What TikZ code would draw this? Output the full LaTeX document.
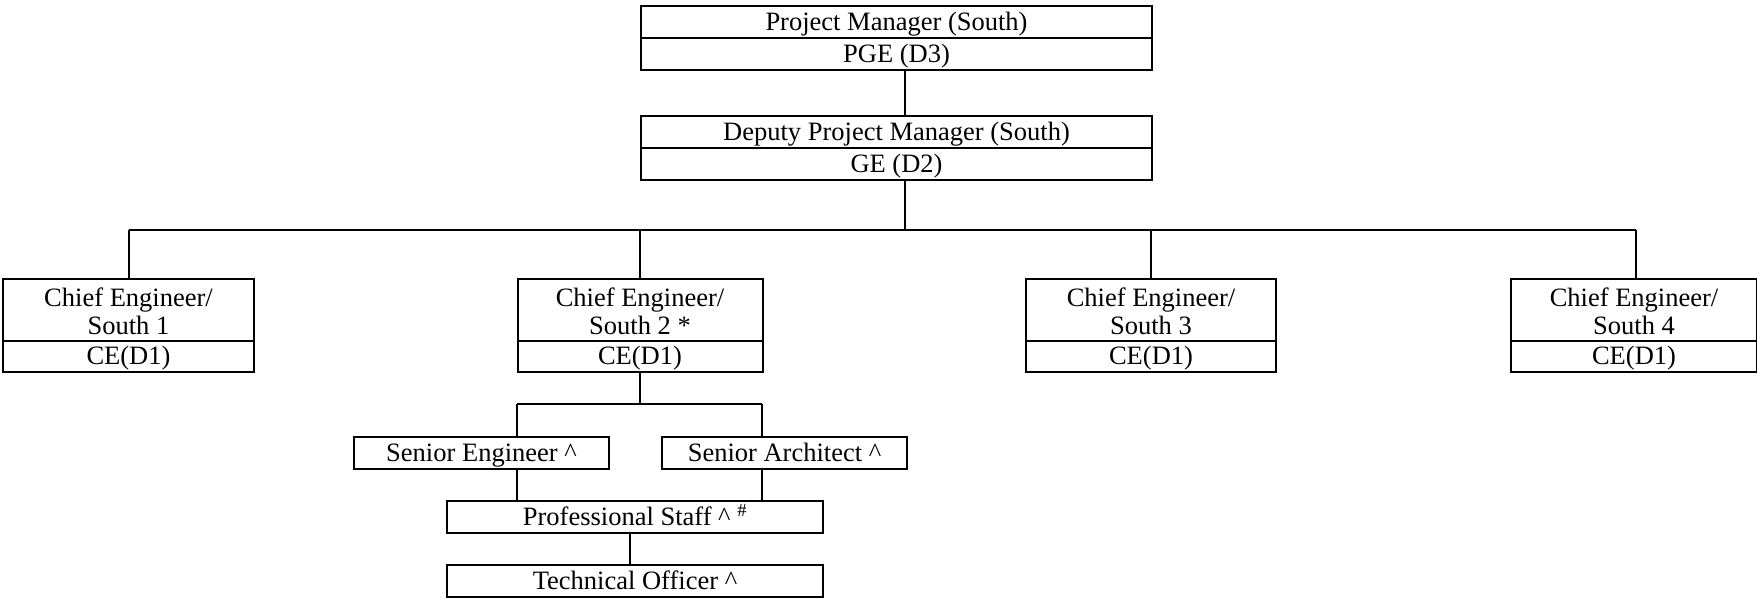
\documentclass[tikz,border=0pt]{standalone}
\usepackage{fontspec}
\setmainfont{Liberation Serif}
\begin{document}
\begin{tikzpicture}[x=1pt,y=-1pt,
  every path/.style={line width=2pt},
  box/.style={draw, line width=2pt, rectangle, inner sep=0pt, outer sep=0pt,
    align=center, font=\fontsize{26.5}{28}\selectfont,
    text height=20pt, text depth=3.5pt},
  box2/.style={box, text height=48pt, text depth=0pt}]
\useasboundingbox (0,0) rectangle (1757,600);
% top
\node[box, minimum width=511, minimum height=32] (pmT) at (896.5,22) {Project Manager (South)};
\node[box, minimum width=511, minimum height=32] (pmB) at (896.5,54) {PGE (D3)};
\node[box, minimum width=511, minimum height=32] (dpT) at (896.5,132) {Deputy Project Manager (South)};
\node[box, minimum width=511, minimum height=32] (dpB) at (896.5,164) {GE (D2)};
% chief engineers
\node[box2, minimum width=251, minimum height=62] (ce1T) at (128.5,310) {Chief Engineer/\\South 1};
\node[box, minimum width=251, minimum height=31] (ce1B) at (128.5,356.5) {CE(D1)};
\node[box2, minimum width=245, minimum height=62] (ce2T) at (640,310) {Chief Engineer/\\South 2 *};
\node[box, minimum width=245, minimum height=31] (ce2B) at (640,356.5) {CE(D1)};
\node[box2, minimum width=250, minimum height=62] (ce3T) at (1151,310) {Chief Engineer/\\South 3};
\node[box, minimum width=250, minimum height=31] (ce3B) at (1151,356.5) {CE(D1)};
\node[box2, minimum width=246, minimum height=62] (ce4T) at (1634,310) {Chief Engineer/\\South 4};
\node[box, minimum width=246, minimum height=31] (ce4B) at (1634,356.5) {CE(D1)};
% lower
\node[box, minimum width=255, minimum height=32] (se) at (481.5,453) {Senior Engineer \textasciicircum};
\node[box, minimum width=245, minimum height=32] (sa) at (784.5,453) {Senior Architect \textasciicircum};
\node[box, minimum width=376, minimum height=32] (ps) at (635,517) {Professional Staff \textasciicircum\ \textsuperscript{\#}};
\node[box, minimum width=376, minimum height=32] (to) at (635,581) {Technical Officer \textasciicircum};
% coordinates
\coordinate (busL) at (129,230);
\coordinate (busR) at (1636,230);
\coordinate (b1) at (517,404);
\coordinate (b2) at (762,404);
% connectors
\draw ([xshift=8.5pt]pmB.south) -- ([xshift=8.5pt]dpT.north);
\draw ([xshift=8.5pt]dpB.south) -- ([xshift=8.5pt]dpB.south |- busL);
\draw (busL) -- (busR);
\draw (busL) -- (busL |- ce1T.north);
\draw (ce2T.north) -- (ce2T.north |- busL);
\draw (ce3T.north) -- (ce3T.north |- busL);
\draw (busR) -- (busR |- ce4T.north);
\draw (ce2B.south) -- (ce2B.south |- b1);
\draw (b1) -- (b2);
\draw (b1) -- (b1 |- se.north);
\draw (b2) -- (b2 |- sa.north);
\draw (b1 |- se.south) -- (b1 |- ps.north);
\draw (b2 |- sa.south) -- (b2 |- ps.north);
\draw ([xshift=-5pt]ps.south) -- ([xshift=-5pt]to.north);
\end{tikzpicture}
\end{document}
